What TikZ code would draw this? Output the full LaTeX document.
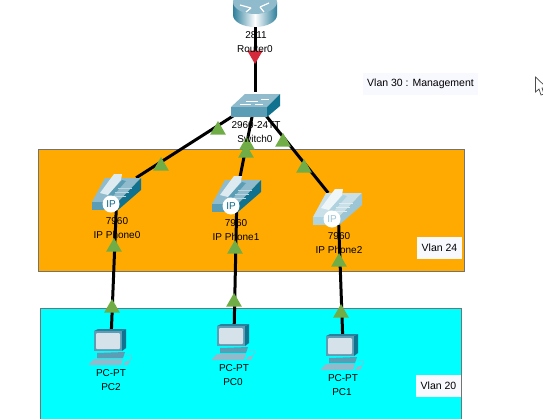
\documentclass[tikz,border=0pt]{standalone}
\usepackage{fontspec}
\setmainfont{Liberation Sans}
\usepackage{xcolor}
\usetikzlibrary{shapes.geometric, arrows.meta, positioning}

\definecolor{vlanorange}{HTML}{FFAA00}
\definecolor{vlancyan}{HTML}{00FFFF}
\definecolor{notewhite}{HTML}{F8F8FF}
\definecolor{linkgreen}{HTML}{70AD47}
\definecolor{linkred}{HTML}{D42A3C}
\definecolor{icontop}{HTML}{8FBBCC}
\definecolor{iconfront}{HTML}{5B9DB5}
\definecolor{iconside}{HTML}{11728F}
\definecolor{icondark}{HTML}{2E7F9B}
\definecolor{icontext}{HTML}{0C6C88}
\definecolor{screenblue}{HTML}{D5E2EA}
\definecolor{palefront}{HTML}{AFD2DF}
\definecolor{paletop}{HTML}{C9E0E8}
\definecolor{paleside}{HTML}{9CC6D5}

\tikzset{
  pics/routericon/.style={code={
    \shade[left color=icondark, right color=icondark, middle color=white]
      (-22,-11) -- (-22,2) arc[start angle=180, end angle=0, x radius=22, y radius=12]
      -- (22,-11) -- cycle;
    \fill[icontop] (0,-11) ellipse[x radius=22, y radius=12];
    \draw[white, line width=1.2pt] (-15,-8) -- (-4,-5) (5,-6) -- (14,-10) (-9,-1) -- (-4,-5) (5,-6) -- (9,-1);
  }},
  pics/switchicon/.style={code={
    \fill[icontop] (-24,5) -- (-10,-8) -- (25,-8) -- (12,5) -- cycle;
    \fill[iconfront] (-24,5) rectangle (12,15);
    \fill[iconside] (12,5) -- (25,-8) -- (25,4) -- (12,15) -- cycle;
    \draw[white, line width=.8pt] (-9,-1) -- (3,-1) (6,-3) -- (14,-3) (-15,2) -- (-4,2) (0,2) -- (8,2);
  }},
  pics/phoneicon/.style n args={4}{code={
    \fill[#1] (-25,12) -- (-12,-12) -- (24,-12) -- (1,12) -- cycle;
    \fill[#2] (-25,12) rectangle (1,20);
    \fill[#3] (1,12) -- (24,-12) -- (24,0) -- (1,20) -- cycle;
    \fill[#2] (-9,5) -- (5,-10) -- (9,-9) -- (-4,6) -- cycle;
    \fill[white!70!#1] (-17,3) -- (-3,-16) -- (5,-16) -- (4,-10) -- (-9,5) -- cycle;
    \draw[white!40!#1, line width=.5pt] (1,-2) -- (15,-2) (-2,2) -- (12,2) (-5,6) -- (9,6);
    \node[circle, fill=white, inner sep=0pt, minimum size=17pt, text=#4, font=\fontsize{10}{10}\selectfont] (-ip) at (-6,14) {IP};
  }},
  pics/pcicon/.style={code={
    \fill[iconside] (11,-9) -- (15,-11) -- (15,8) -- (11,11) -- cycle;
    \fill[icondark] (-17,-9) -- (-13,-11) -- (15,-11) -- (11,-9) -- cycle;
    \fill[iconfront] (-17,-9) rectangle (11,11);
    \fill[screenblue, rounded corners=1pt] (-15,-7) rectangle (9,9);
    \fill[iconfront] (-14,13) -- (14,12) -- (12,18) -- (-14,18) -- cycle;
    \fill[icontop] (-22,24) -- (-17,19) -- (12,19) -- (10,25) -- (-22,25) -- cycle;
    \fill[icontop] (12,25) -- (15,21) -- (19,21) -- (17,25) -- cycle;
    \draw[icontop, line width=.4pt] (14,16) -- (20,15) -- (21,18) -- (18,21);
  }}
}

\begin{document}
\begin{tikzpicture}[
  x=1pt, y=-1pt,
  vlanbox/.style={draw=black!55, line width=1pt},
  routerbox/.style={rectangle, inner sep=0pt, minimum width=40pt, minimum height=26pt},
  switchbox/.style={rectangle, inner sep=0pt, minimum width=40pt, minimum height=20pt},
  phonebox/.style={rectangle, inner sep=0pt, minimum width=40pt, minimum height=24pt},
  pcbox/.style={rectangle, inner sep=0pt, minimum width=26pt, minimum height=20pt},
  link/.style={line width=3pt, black},
  uptri/.style={regular polygon, regular polygon sides=3, fill=linkgreen, inner sep=0pt, minimum size=18pt},
  downtri/.style={uptri, fill=linkred, shape border rotate=180},
  devlabel/.style={inner sep=0pt, font=\fontsize{10}{10}\selectfont},
  note/.style={fill=notewhite, inner sep=0pt, font=\fontsize{10.5}{10.5}\selectfont}
]
\path[use as bounding box, clip] (0,0) rectangle (543,418);
\fill[white] (0,0) rectangle (543,418);

% vlan areas
\draw[vlanbox, fill=vlanorange] (38,149) rectangle (464,271);
\draw[vlanbox, fill=vlancyan] (40,308) rectangle (461,430);

% devices
\node[routerbox] (router0) at (255,13) {};
\node[switchbox] (switch0) at (255,102) {};
\node[phonebox] (phone0) at (117,190) {};
\node[phonebox] (phone1) at (237,192) {};
\node[phonebox] (phone2) at (338,205) {};
\node[pcbox] (pc2) at (111,340) {};
\node[pcbox] (pc0) at (234,335) {};
\node[pcbox] (pc1) at (343,345) {};

\draw[link] (router0) -- (switch0);
\draw[link] (switch0) -- (phone0);
\draw[link] (switch0) -- (phone1);
\draw[link] (switch0) -- (phone2);
\draw[link] (phone0) -- (pc2);
\draw[link] (phone1) -- (pc0);
\draw[link] (phone2) -- (pc1);

\pic at (router0) {routericon};
\pic at (switch0) {switchicon};
\pic (ph0) at (phone0) {phoneicon={icontop}{iconfront}{iconside}{icontext}};
\pic (ph1) at (phone1) {phoneicon={icontop}{iconfront}{iconside}{icontext}};
\pic (ph2) at (phone2) {phoneicon={paletop}{palefront}{paleside}{paleside}};
\pic at (pc2) {pcicon};
\pic at (pc0) {pcicon};
\pic at (pc1) {pcicon};

% link lights
\node[downtri] (lightr) at (255,55) {};
\node[uptri] (lights0) at (218,130) {};
\node[uptri] (lights1) at (247,145) {};
\node[uptri] (lights2) at (283,142) {};
\node[uptri] (lightp0) at (161,166) {};
\node[uptri] (lightp1) at (246,153) {};
\node[uptri] (lightp2) at (304,168) {};
\node[uptri] (lightd0) at (114,247) {};
\node[uptri] (lightd1) at (235,249) {};
\node[uptri] (lightd2) at (339,262) {};
\node[uptri] (lightc2) at (112,308) {};
\node[uptri] (lightc0) at (234,302) {};
\node[uptri] (lightc1) at (341,313) {};

% labels
\node[devlabel] (router0a) at (256,35) {2811};
\node[devlabel] (router0b) at (255,49) {Router0};
\node[devlabel] (switch0a) at (256,125) {2960-24TT};
\node[devlabel] (switch0b) at (255,139) {Switch0};
\node[devlabel] (phone0a) at (117,221) {7960};
\node[devlabel] (phone0b) at (117,235) {IP Phone0};
\node[devlabel] (phone1a) at (236,223) {7960};
\node[devlabel] (phone1b) at (236,237) {IP Phone1};
\node[devlabel] (phone2a) at (339,236) {7960};
\node[devlabel] (phone2b) at (339,250) {IP Phone2};
\node[devlabel] (pc2a) at (111,373) {PC-PT};
\node[devlabel] (pc2b) at (111,387) {PC2};
\node[devlabel] (pc0a) at (234,368) {PC-PT};
\node[devlabel] (pc0b) at (233,382) {PC0};
\node[devlabel] (pc1a) at (343,378) {PC-PT};
\node[devlabel] (pc1b) at (342,392) {PC1};

\node[note, minimum width=115pt, minimum height=22pt] (vlan30) at (420.5,84) {Vlan 30 : Management};
\node[note, minimum width=45pt, minimum height=22pt] (vlan24) at (439.5,248) {Vlan 24};
\node[note, minimum width=45pt, minimum height=22pt] (vlan20) at (438.5,386) {Vlan 20};

% mouse pointer
\draw[black!70, fill=white, line width=.7pt] (535.5,77) -- (535.5,92) -- (539,89) -- (541,95) -- (544,94) -- (542,88) -- (547,88) -- cycle;
\end{tikzpicture}
\end{document}
